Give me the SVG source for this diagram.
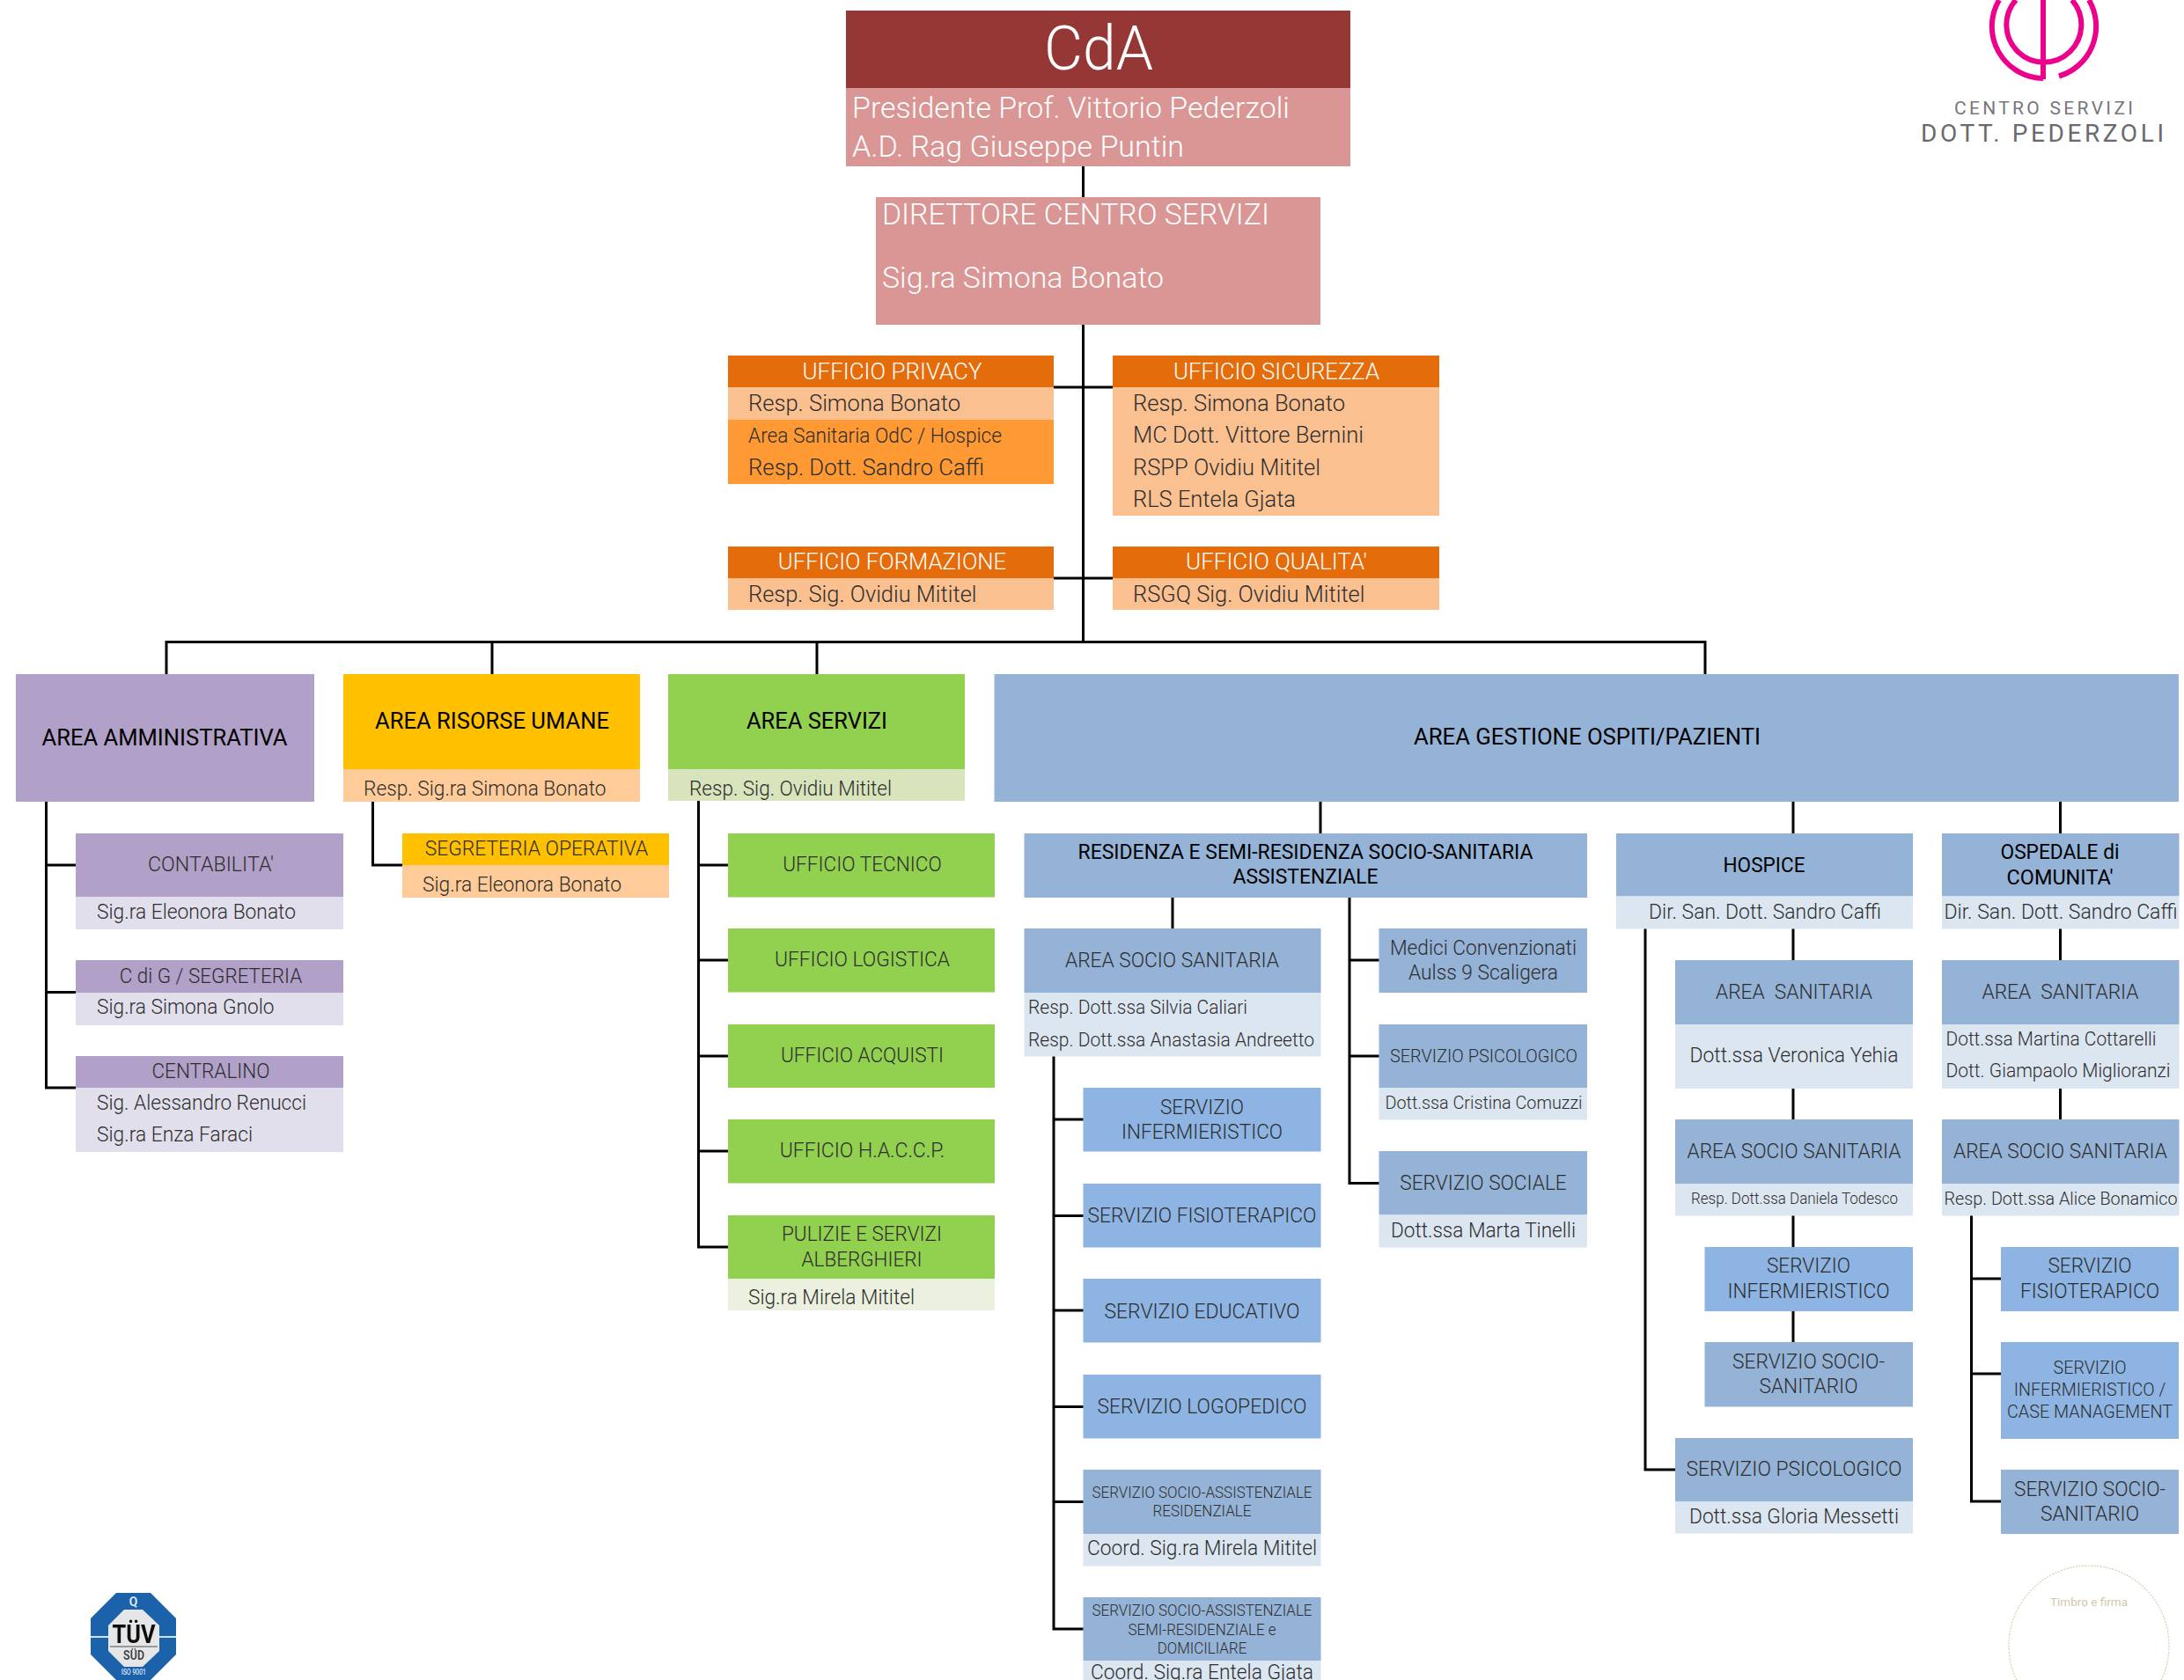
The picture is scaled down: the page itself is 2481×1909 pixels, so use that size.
<svg xmlns="http://www.w3.org/2000/svg" width="2481" height="1909" viewBox="0 0 2481 1909">
<style>
text{font-family:Roboto,"Liberation Sans",sans-serif;font-weight:300;fill:#2e2e2e;white-space:pre}
.c{text-anchor:middle}
.w{fill:#fff}
.b{font-weight:400;fill:#000}
.s17{font-size:17.500px}.s20{font-size:20.500px}.s21{font-size:21.500px}.s23{font-size:23px}.s26{font-size:26px}.s34{font-size:34px}
.cdr{fill:#953735}.pk{fill:#d99694}.or{fill:#e46c0a}.lo{fill:#fac090}.mo{fill:#ff9933}.pu{fill:#b1a0c7}.lp{fill:#e2dfed}.ye{fill:#ffc000}.pe{fill:#ffcc99}.gr{fill:#92d050}.lg{fill:#d8e4bc}.xg{fill:#ebf1de}.bl{fill:#95b3d7}.lb{fill:#dce6f1}.br{fill:#8db4e2}
.conn{fill:none;stroke:#000;stroke-width:3}
.logo{fill:none;stroke:#ec008c;stroke-width:6}
</style>
<defs><filter id="soft" x="-5%" y="-5%" width="110%" height="110%"><feGaussianBlur stdDeviation="0.700"/></filter></defs>
<rect width="2481" height="1909" fill="#fff"/>
<g id="logo">
<path class="logo" d="M2271 0A59 59 0 0 0 2321 89"/>
<path class="logo" d="M2373 0A59 59 0 0 1 2339 86.500"/>
<path class="logo" d="M2290 0A42.500 42.500 0 1 0 2353.700 0"/>
<path class="logo" d="M2321 0V90"/>
<text x="2220" y="130" font-size="21" textLength="203" style="fill:#77777b;font-weight:400">CENTRO SERVIZI</text>
<text x="2182" y="161" font-size="28" textLength="276" style="fill:#69696e;font-weight:400">DOTT. PEDERZOLI</text>
</g>
<g id="cda"><rect class="cdr" x="961" y="12" width="573" height="88"/><rect class="pk" x="961" y="100" width="573" height="89"/>
<text class="c w" x="1248" y="79" font-size="71" textLength="124" lengthAdjust="spacingAndGlyphs">CdA</text>
<text class="w s34" x="968" y="134" textLength="497" lengthAdjust="spacingAndGlyphs">Presidente Prof. Vittorio Pederzoli</text>
<text class="w s34" x="968" y="178" textLength="377" lengthAdjust="spacingAndGlyphs">A.D. Rag Giuseppe Puntin</text></g>
<g id="direttore"><rect class="pk" x="995" y="224" width="505" height="145"/>
<text class="w s34" x="1002" y="255" textLength="440" lengthAdjust="spacingAndGlyphs">DIRETTORE CENTRO SERVIZI</text>
<text class="w s34" x="1002" y="327" textLength="320" lengthAdjust="spacingAndGlyphs">Sig.ra Simona Bonato</text></g>
<g id="privacy"><rect class="or" x="827" y="404" width="370" height="36"/><rect class="lo" x="827" y="440" width="370" height="37"/><rect class="mo" x="827" y="477" width="370" height="73"/>
<text class="c w s26" x="1013.500" y="430.500" textLength="204" lengthAdjust="spacingAndGlyphs">UFFICIO PRIVACY</text>
<text class="s26" x="850" y="466.500" textLength="241" lengthAdjust="spacingAndGlyphs">Resp. Simona Bonato</text>
<text class="s23" x="850" y="503" textLength="288" lengthAdjust="spacingAndGlyphs">Area Sanitaria OdC / Hospice</text>
<text class="s26" x="850" y="539.500" textLength="268" lengthAdjust="spacingAndGlyphs">Resp. Dott. Sandro Caffi</text></g>
<g id="sicurezza"><rect class="or" x="1264" y="404" width="371" height="36"/><rect class="lo" x="1264" y="440" width="371" height="146"/>
<text class="c w s26" x="1450" y="430.500" textLength="234" lengthAdjust="spacingAndGlyphs">UFFICIO SICUREZZA</text>
<text class="s26" x="1287" y="466.500" textLength="241" lengthAdjust="spacingAndGlyphs">Resp. Simona Bonato</text>
<text class="s26" x="1287" y="503" textLength="262" lengthAdjust="spacingAndGlyphs">MC Dott. Vittore Bernini</text>
<text class="s26" x="1287" y="539.500" textLength="213" lengthAdjust="spacingAndGlyphs">RSPP Ovidiu Mititel</text>
<text class="s26" x="1287" y="575.500" textLength="185" lengthAdjust="spacingAndGlyphs">RLS Entela Gjata</text></g>
<g id="formazione"><rect class="or" x="827" y="621" width="370" height="36"/><rect class="lo" x="827" y="657" width="370" height="36"/>
<text class="c w s26" x="1013.500" y="647" textLength="259.500" lengthAdjust="spacingAndGlyphs">UFFICIO FORMAZIONE</text>
<text class="s26" x="850" y="683.500" textLength="259.500" lengthAdjust="spacingAndGlyphs">Resp. Sig. Ovidiu Mititel</text></g>
<g id="qualita"><rect class="or" x="1264" y="621" width="371" height="36"/><rect class="lo" x="1264" y="657" width="371" height="36"/>
<text class="c w s26" x="1450" y="647" textLength="206" lengthAdjust="spacingAndGlyphs">UFFICIO QUALITA'</text>
<text class="s26" x="1287" y="683.500" textLength="263.500" lengthAdjust="spacingAndGlyphs">RSGQ Sig. Ovidiu Mititel</text></g>

<g id="area-amministrativa"><rect class="pu" x="18" y="766" width="339" height="145"/>
<text class="c b s26" x="187" y="846.500" textLength="279" lengthAdjust="spacingAndGlyphs">AREA AMMINISTRATIVA</text></g>
<g id="contabilita"><rect class="pu" x="86" y="947" width="304" height="72"/><rect class="lp" x="86" y="1019" width="304" height="37"/>
<text class="c s23" x="239.500" y="990" textLength="143" lengthAdjust="spacingAndGlyphs">CONTABILITA'</text>
<text class="s23" x="110" y="1043.500" textLength="226" lengthAdjust="spacingAndGlyphs">Sig.ra Eleonora Bonato</text></g>
<g id="cdig"><rect class="pu" x="86" y="1091" width="304" height="37"/><rect class="lp" x="86" y="1128" width="304" height="37"/>
<text class="c s23" x="239.500" y="1116.500" textLength="207.500" lengthAdjust="spacingAndGlyphs">C di G / SEGRETERIA</text>
<text class="s23" x="110" y="1151.500" textLength="201.500" lengthAdjust="spacingAndGlyphs">Sig.ra Simona Gnolo</text></g>
<g id="centralino"><rect class="pu" x="86" y="1200" width="304" height="36"/><rect class="lp" x="86" y="1236" width="304" height="73"/>
<text class="c s23" x="239.500" y="1225" textLength="134" lengthAdjust="spacingAndGlyphs">CENTRALINO</text>
<text class="s23" x="110" y="1260.500" textLength="238" lengthAdjust="spacingAndGlyphs">Sig. Alessandro Renucci</text>
<text class="s23" x="110" y="1296.500" textLength="177" lengthAdjust="spacingAndGlyphs">Sig.ra Enza Faraci</text></g>

<g id="area-risorse"><rect class="ye" x="390" y="766" width="337" height="108"/><rect class="pe" x="390" y="874" width="337" height="37"/>
<text class="c b s26" x="559" y="827.500" textLength="266" lengthAdjust="spacingAndGlyphs">AREA RISORSE UMANE</text>
<text class="s23" x="413" y="903.500" textLength="275.500" lengthAdjust="spacingAndGlyphs">Resp. Sig.ra Simona Bonato</text></g>
<g id="segreteria"><rect class="ye" x="457" y="947" width="303" height="36"/><rect class="pe" x="457" y="983" width="303" height="37"/>
<text class="c s23" x="609.500" y="972" textLength="253.500" lengthAdjust="spacingAndGlyphs">SEGRETERIA OPERATIVA</text>
<text class="s23" x="480" y="1012.500" textLength="226" lengthAdjust="spacingAndGlyphs">Sig.ra Eleonora Bonato</text></g>

<g id="area-servizi"><rect class="gr" x="759" y="766" width="337" height="108"/><rect class="lg" x="759" y="874" width="337" height="36"/>
<text class="c b s26" x="928" y="828" textLength="160" lengthAdjust="spacingAndGlyphs">AREA SERVIZI</text>
<text class="s23" x="783" y="903.500" textLength="230" lengthAdjust="spacingAndGlyphs">Resp. Sig. Ovidiu Mititel</text></g>
<g id="tecnico"><rect class="gr" x="827" y="947" width="303" height="72.500"/><text class="c s23" x="979.500" y="990" textLength="180.500" lengthAdjust="spacingAndGlyphs">UFFICIO TECNICO</text></g>
<g id="logistica"><rect class="gr" x="827" y="1055" width="303" height="72.500"/><text class="c s23" x="979.500" y="1098" textLength="199" lengthAdjust="spacingAndGlyphs">UFFICIO LOGISTICA</text></g>
<g id="acquisti"><rect class="gr" x="827" y="1164" width="303" height="72"/><text class="c s23" x="979.500" y="1207" textLength="185" lengthAdjust="spacingAndGlyphs">UFFICIO ACQUISTI</text></g>
<g id="haccp"><rect class="gr" x="827" y="1272" width="303" height="72.500"/><text class="c s23" x="979.500" y="1315" textLength="187.500" lengthAdjust="spacingAndGlyphs">UFFICIO H.A.C.C.P.</text></g>
<g id="pulizie"><rect class="gr" x="827" y="1381" width="303" height="72"/><rect class="xg" x="827" y="1453" width="303" height="36"/>
<text class="c s23" x="979" y="1410" textLength="182" lengthAdjust="spacingAndGlyphs">PULIZIE E SERVIZI</text>
<text class="c s23" x="979" y="1439" textLength="137" lengthAdjust="spacingAndGlyphs">ALBERGHIERI</text>
<text class="s23" x="850" y="1481.500" textLength="189" lengthAdjust="spacingAndGlyphs">Sig.ra Mirela Mititel</text></g>

<g id="area-gestione"><rect class="bl" x="1129.500" y="766" width="1345.500" height="145"/>
<text class="c b s26" x="1803" y="846" textLength="394" lengthAdjust="spacingAndGlyphs">AREA GESTIONE OSPITI/PAZIENTI</text></g>
<g id="residenza"><rect class="bl" x="1163.500" y="947" width="639.500" height="73"/>
<text class="c b s23" x="1483" y="976" textLength="517" lengthAdjust="spacingAndGlyphs">RESIDENZA E SEMI-RESIDENZA SOCIO-SANITARIA</text>
<text class="c b s23" x="1483" y="1004" textLength="165" lengthAdjust="spacingAndGlyphs">ASSISTENZIALE</text></g>
<g id="area-socio-sanitaria-res"><rect class="bl" x="1163.500" y="1055" width="337" height="73"/><rect class="lb" x="1163.500" y="1128" width="337" height="72.500"/>
<text class="c s23" x="1331.500" y="1098.500" textLength="243" lengthAdjust="spacingAndGlyphs">AREA SOCIO SANITARIA</text>
<text class="s21" x="1168" y="1151.500" textLength="249" lengthAdjust="spacingAndGlyphs">Resp. Dott.ssa Silvia Caliari</text>
<text class="s21" x="1168" y="1188.500" textLength="325" lengthAdjust="spacingAndGlyphs">Resp. Dott.ssa Anastasia Andreetto</text></g>
<g id="medici"><rect class="bl" x="1566.500" y="1055" width="236.500" height="73"/>
<text class="c s23" x="1685" y="1085" textLength="212" lengthAdjust="spacingAndGlyphs">Medici Convenzionati</text>
<text class="c s23" x="1685" y="1112.500" textLength="170" lengthAdjust="spacingAndGlyphs">Aulss 9 Scaligera</text></g>
<g id="psicologico-res"><rect class="bl" x="1566.500" y="1164" width="236.500" height="72"/><rect class="lb" x="1566.500" y="1236" width="236.500" height="36.500"/>
<text class="c s20" x="1685.500" y="1206.500" textLength="213" lengthAdjust="spacingAndGlyphs">SERVIZIO PSICOLOGICO</text>
<text class="c s20" x="1685.500" y="1260" textLength="224" lengthAdjust="spacingAndGlyphs">Dott.ssa Cristina Comuzzi</text></g>
<g id="sociale-res"><rect class="bl" x="1566.500" y="1308" width="236.500" height="72.500"/><rect class="lb" x="1566.500" y="1380.500" width="236.500" height="37"/>
<text class="c s23" x="1685" y="1352" textLength="189.500" lengthAdjust="spacingAndGlyphs">SERVIZIO SOCIALE</text>
<text class="c s23" x="1685" y="1406" textLength="210" lengthAdjust="spacingAndGlyphs">Dott.ssa Marta Tinelli</text></g>
<g id="inf-res"><rect class="br" x="1230.500" y="1236" width="270" height="72.500"/>
<text class="c s23" x="1365.500" y="1265.500" textLength="95" lengthAdjust="spacingAndGlyphs">SERVIZIO</text>
<text class="c s23" x="1365.500" y="1293.500" textLength="183" lengthAdjust="spacingAndGlyphs">INFERMIERISTICO</text></g>
<g id="fisio-res"><rect class="br" x="1230.500" y="1345" width="270" height="72.500"/><text class="c s23" x="1365.500" y="1389" textLength="260" lengthAdjust="spacingAndGlyphs">SERVIZIO FISIOTERAPICO</text></g>
<g id="educativo"><rect class="br" x="1230.500" y="1453" width="270" height="72.500"/><text class="c s23" x="1365.500" y="1497.500" textLength="222" lengthAdjust="spacingAndGlyphs">SERVIZIO EDUCATIVO</text></g>
<g id="logopedico"><rect class="br" x="1230.500" y="1562" width="270" height="72.500"/><text class="c s23" x="1365.500" y="1606" textLength="238" lengthAdjust="spacingAndGlyphs">SERVIZIO LOGOPEDICO</text></g>
<g id="ssa-res"><rect class="bl" x="1230.500" y="1670" width="270" height="73"/><rect class="lb" x="1230.500" y="1743" width="270" height="36.500"/>
<text class="c s17" x="1365.500" y="1701.500" textLength="250" lengthAdjust="spacingAndGlyphs">SERVIZIO SOCIO-ASSISTENZIALE</text>
<text class="c s17" x="1365.500" y="1723" textLength="112" lengthAdjust="spacingAndGlyphs">RESIDENZIALE</text>
<text class="c s23" x="1365.500" y="1766.500" textLength="261" lengthAdjust="spacingAndGlyphs">Coord. Sig.ra Mirela Mititel</text></g>
<g id="ssa-semi"><rect class="bl" x="1230.500" y="1815" width="270" height="72"/><rect class="lb" x="1230.500" y="1887" width="270" height="22"/>
<text class="c s17" x="1365.500" y="1835.500" textLength="250" lengthAdjust="spacingAndGlyphs">SERVIZIO SOCIO-ASSISTENZIALE</text>
<text class="c s17" x="1365.500" y="1858" textLength="168" lengthAdjust="spacingAndGlyphs">SEMI-RESIDENZIALE e</text>
<text class="c s17" x="1365.500" y="1878.500" textLength="101.500" lengthAdjust="spacingAndGlyphs">DOMICILIARE</text>
<text class="c s23" x="1365.500" y="1907.500" textLength="253" lengthAdjust="spacingAndGlyphs">Coord. Sig.ra Entela Gjata</text></g>

<g id="hospice"><rect class="bl" x="1836" y="947" width="337" height="71.500"/><rect class="lb" x="1836" y="1018.500" width="337" height="37"/>
<text class="c b s23" x="2004" y="990.500" textLength="93" lengthAdjust="spacingAndGlyphs">HOSPICE</text>
<text class="c s23" x="2005" y="1043.500" textLength="264" lengthAdjust="spacingAndGlyphs">Dir. San. Dott. Sandro Caffi</text></g>
<g id="area-sanitaria-hos"><rect class="bl" x="1903" y="1091" width="270" height="73"/><rect class="lb" x="1903" y="1164" width="270" height="73"/>
<text class="c s23" x="2038" y="1135" textLength="178" lengthAdjust="spacingAndGlyphs">AREA  SANITARIA</text>
<text class="c s23" x="2038" y="1207" textLength="237" lengthAdjust="spacingAndGlyphs">Dott.ssa Veronica Yehia</text></g>
<g id="area-socio-hos"><rect class="bl" x="1903" y="1272" width="270" height="73"/><rect class="lb" x="1903" y="1345" width="270" height="36.500"/>
<text class="c s23" x="2038" y="1316" textLength="243" lengthAdjust="spacingAndGlyphs">AREA SOCIO SANITARIA</text>
<text class="c s17" x="2038.500" y="1368" textLength="235" lengthAdjust="spacingAndGlyphs">Resp. Dott.ssa Daniela Todesco</text></g>
<g id="inf-hos"><rect class="br" x="1936.500" y="1417" width="236.500" height="73"/>
<text class="c s23" x="2054.500" y="1445.500" textLength="95" lengthAdjust="spacingAndGlyphs">SERVIZIO</text>
<text class="c s23" x="2054.500" y="1474.500" textLength="184" lengthAdjust="spacingAndGlyphs">INFERMIERISTICO</text></g>
<g id="socio-hos"><rect class="bl" x="1936.500" y="1525" width="236.500" height="73.500"/>
<text class="c s23" x="2054.500" y="1555" textLength="173" lengthAdjust="spacingAndGlyphs">SERVIZIO SOCIO-</text>
<text class="c s23" x="2054.500" y="1583" textLength="112" lengthAdjust="spacingAndGlyphs">SANITARIO</text></g>
<g id="psico-hos"><rect class="bl" x="1903" y="1634" width="270" height="72"/><rect class="lb" x="1903" y="1706" width="270" height="36.500"/>
<text class="c s23" x="2038" y="1676.500" textLength="245" lengthAdjust="spacingAndGlyphs">SERVIZIO PSICOLOGICO</text>
<text class="c s23" x="2038" y="1730.500" textLength="238" lengthAdjust="spacingAndGlyphs">Dott.ssa Gloria Messetti</text></g>

<g id="ospedale"><rect class="bl" x="2206" y="947" width="269.500" height="71.500"/><rect class="lb" x="2206" y="1018.500" width="269.500" height="37"/>
<text class="c b s23" x="2340" y="975.500" textLength="135" lengthAdjust="spacingAndGlyphs">OSPEDALE di</text>
<text class="c b s23" x="2340" y="1004.500" textLength="121" lengthAdjust="spacingAndGlyphs">COMUNITA'</text>
<text class="c s23" x="2341" y="1043.500" textLength="265" lengthAdjust="spacingAndGlyphs">Dir. San. Dott. Sandro Caffi</text></g>
<g id="area-sanitaria-osp"><rect class="bl" x="2206" y="1091" width="269.500" height="73"/><rect class="lb" x="2206" y="1164" width="269.500" height="73"/>
<text class="c s23" x="2340.500" y="1135" textLength="178" lengthAdjust="spacingAndGlyphs">AREA  SANITARIA</text>
<text class="s21" x="2210.500" y="1188" textLength="239" lengthAdjust="spacingAndGlyphs">Dott.ssa Martina Cottarelli</text>
<text class="s21" x="2210.500" y="1224" textLength="255" lengthAdjust="spacingAndGlyphs">Dott. Giampaolo Miglioranzi</text></g>
<g id="area-socio-osp"><rect class="bl" x="2206" y="1272" width="269.500" height="73"/><rect class="lb" x="2206" y="1345" width="269.500" height="36.500"/>
<text class="c s23" x="2340.500" y="1316" textLength="243" lengthAdjust="spacingAndGlyphs">AREA SOCIO SANITARIA</text>
<text class="c s20" x="2341" y="1369" textLength="265" lengthAdjust="spacingAndGlyphs">Resp. Dott.ssa Alice Bonamico</text></g>
<g id="fisio-osp"><rect class="br" x="2273" y="1417" width="202" height="73"/>
<text class="c s23" x="2374" y="1446" textLength="95" lengthAdjust="spacingAndGlyphs">SERVIZIO</text>
<text class="c s23" x="2374" y="1475" textLength="158" lengthAdjust="spacingAndGlyphs">FISIOTERAPICO</text></g>
<g id="inf-osp"><rect class="br" x="2273" y="1525" width="202" height="110"/>
<text class="c s20" x="2374" y="1561" textLength="83" lengthAdjust="spacingAndGlyphs">SERVIZIO</text>
<text class="c s20" x="2374" y="1585.500" textLength="172.500" lengthAdjust="spacingAndGlyphs">INFERMIERISTICO /</text>
<text class="c s20" x="2374" y="1610.500" textLength="188" lengthAdjust="spacingAndGlyphs">CASE MANAGEMENT</text></g>
<g id="socio-osp"><rect class="bl" x="2273" y="1670" width="202" height="73"/>
<text class="c s23" x="2374" y="1700" textLength="172" lengthAdjust="spacingAndGlyphs">SERVIZIO SOCIO-</text>
<text class="c s23" x="2374" y="1728" textLength="112" lengthAdjust="spacingAndGlyphs">SANITARIO</text></g>

<g id="connectors" class="conn">
<path d="M1230.500 189V224M1230.500 369V729.500M1197 440H1264M1197 657H1264"/>
<path d="M189 766V729.500H1937V766M559 729.500V766M928 729.500V766"/>
<path d="M52.500 911V1236H86M52.500 983H86M52.500 1127.500H86"/>
<path d="M423.500 911V983H457"/>
<path d="M793.500 910V1417H827M793.500 983H827M793.500 1091H827M793.500 1200H827M793.500 1308H827"/>
<path d="M1500 911V947M2037 911V947M2340.500 911V947"/>
<path d="M1332 1020V1055M1533 1020V1344.500H1566.500M1533 1091H1566.500M1533 1200H1566.500"/>
<path d="M1197 1200.500V1851H1230.500M1197 1272H1230.500M1197 1381.500H1230.500M1197 1489H1230.500M1197 1598.500H1230.500M1197 1706.500H1230.500"/>
<path d="M1869 1055.500V1670H1903"/>
<path d="M2037 1055.500V1091M2037 1237V1272M2037 1381.500V1417M2037 1490V1525"/>
<path d="M2340.500 1055.500V1091M2340.500 1237V1272"/>
<path d="M2239.500 1381.500V1706H2273M2239.500 1453H2273M2239.500 1561H2273"/>
</g>

<g id="timbro"><circle cx="2373" cy="1870" r="91" fill="none" stroke="#d5cdb0" stroke-width="1.200" stroke-dasharray="2 1.500"/>
<text class="c" x="2373" y="1825" font-size="13.500" textLength="88" lengthAdjust="spacingAndGlyphs" style="fill:#d0caa8;font-weight:400">Timbro e firma</text></g>
<g id="tuv" filter="url(#soft)">
<polygon points="132,1810 171,1810 200,1839 200,1880 171,1909 132,1909 103,1880 103,1839" fill="#1c62aa"/>
<path d="M103 1860H123M181 1860H200" stroke="#cfe4f6" stroke-width="2"/>
<polygon points="141,1829 162,1829 181,1847 181,1876 162,1894 141,1894 123,1876 123,1847" fill="#e4e6e8"/>
<text class="c" x="151.500" y="1825" font-size="14" style="fill:#dbe9f5;font-weight:700">Q</text>
<text class="c" x="152" y="1867" font-size="30" textLength="49" lengthAdjust="spacingAndGlyphs" style="fill:#111;font-weight:700">TÜV</text>
<rect x="125" y="1870" width="54" height="2" fill="#999"/>
<text class="c" x="152" y="1886" font-size="14" textLength="24" lengthAdjust="spacingAndGlyphs" style="fill:#444;font-weight:700">SÜD</text>
<text class="c" x="152" y="1903" font-size="9" textLength="28" lengthAdjust="spacingAndGlyphs" style="fill:#dbe9f5;font-weight:500">ISO 9001</text>
</g>
</svg>
